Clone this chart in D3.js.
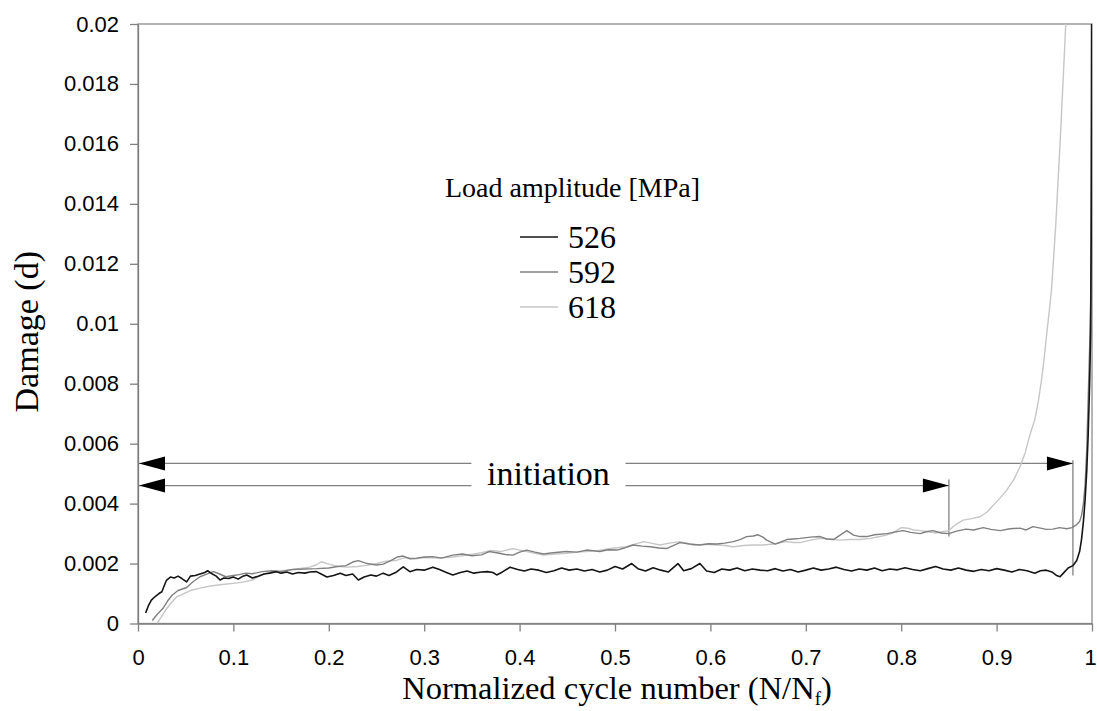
<!DOCTYPE html>
<html>
<head>
<meta charset="utf-8">
<script src="https://cdn.jsdelivr.net/npm/d3@7"></script>
<style>
body { margin: 0; background: #fff; }
svg { display: block; }
</style>
</head>
<body>
<svg id="chart" width="1097" height="711"></svg>
<script>
// damage curves, [N/Nf, d]
var s526 = [[0.008,0.00035],[0.011,0.0006],[0.014,0.00078],[0.018,0.0009],[0.022,0.001],[0.025,0.00106],[0.028,0.0013],[0.030,0.00145],[0.034,0.00155],[0.038,0.00152],[0.042,0.00158],[0.046,0.0015],[0.051,0.00139],[0.055,0.00158],[0.06,0.0016],[0.065,0.00165],[0.07,0.0017],[0.073,0.00176],[0.078,0.00165],[0.082,0.00158],[0.086,0.00145],[0.09,0.00152],[0.095,0.0015],[0.1,0.00155],[0.105,0.00148],[0.11,0.00158],[0.114,0.00162],[0.12,0.00152],[0.126,0.00158],[0.132,0.00165],[0.138,0.00168],[0.145,0.00173],[0.15,0.00168],[0.156,0.00172],[0.162,0.00165],[0.168,0.0017],[0.175,0.00168],[0.18,0.00172],[0.187,0.00173],[0.192,0.00165],[0.198,0.00155],[0.205,0.0016],[0.212,0.00168],[0.218,0.0016],[0.225,0.00165],[0.231,0.00145],[0.237,0.00155],[0.244,0.00162],[0.25,0.00158],[0.257,0.00168],[0.263,0.0016],[0.27,0.0017],[0.278,0.00189],[0.285,0.00173],[0.292,0.0018],[0.3,0.00178],[0.309,0.00188],[0.316,0.0018],[0.322,0.00172],[0.33,0.00162],[0.338,0.0017],[0.345,0.00175],[0.352,0.00168],[0.36,0.00172],[0.366,0.00173],[0.372,0.0017],[0.376,0.00162],[0.382,0.00172],[0.39,0.00188],[0.398,0.0018],[0.405,0.00175],[0.412,0.00182],[0.42,0.00178],[0.428,0.0017],[0.436,0.00176],[0.444,0.00185],[0.452,0.00178],[0.46,0.00182],[0.468,0.00175],[0.476,0.0018],[0.484,0.00172],[0.492,0.00178],[0.5,0.0019],[0.508,0.00182],[0.5175,0.002],[0.524,0.00183],[0.532,0.00175],[0.54,0.00186],[0.548,0.00178],[0.556,0.00172],[0.566,0.002],[0.572,0.00176],[0.58,0.00183],[0.589,0.002],[0.596,0.00175],[0.604,0.0017],[0.612,0.00182],[0.62,0.00178],[0.628,0.00185],[0.636,0.00176],[0.644,0.00182],[0.652,0.00178],[0.66,0.00176],[0.668,0.00183],[0.676,0.00175],[0.684,0.0018],[0.692,0.00172],[0.7,0.00178],[0.708,0.00185],[0.716,0.00178],[0.724,0.00182],[0.732,0.00188],[0.74,0.0018],[0.748,0.00175],[0.756,0.00182],[0.764,0.00178],[0.772,0.00185],[0.78,0.00176],[0.788,0.00182],[0.796,0.00179],[0.804,0.00186],[0.812,0.0018],[0.82,0.00176],[0.828,0.00183],[0.836,0.0019],[0.844,0.00182],[0.852,0.00178],[0.86,0.00185],[0.868,0.00178],[0.876,0.00174],[0.884,0.0018],[0.892,0.00176],[0.9,0.00183],[0.908,0.00178],[0.916,0.00172],[0.924,0.0018],[0.932,0.00176],[0.94,0.00168],[0.946,0.00176],[0.952,0.00178],[0.958,0.00172],[0.963,0.0016],[0.9665,0.00156],[0.97,0.00168],[0.975,0.00185],[0.98,0.00193],[0.984,0.0021],[0.987,0.0024],[0.989,0.0028],[0.991,0.0034],[0.9927,0.0041],[0.9945,0.0051],[0.996,0.0063],[0.9975,0.008],[0.9986,0.0097],[0.9992,0.013],[0.9995,0.017],[0.9997,0.021]];

var s592 = [[0.015,0.0001],[0.02,0.0003],[0.026,0.0005],[0.031,0.00075],[0.036,0.00095],[0.042,0.0011],[0.051,0.0012],[0.058,0.0014],[0.065,0.00156],[0.072,0.00165],[0.079,0.00173],[0.085,0.00166],[0.092,0.00156],[0.1,0.0016],[0.106,0.00163],[0.113,0.00168],[0.12,0.00166],[0.13,0.00173],[0.14,0.00176],[0.15,0.00174],[0.162,0.0018],[0.175,0.00182],[0.187,0.00183],[0.2,0.00185],[0.209,0.0019],[0.218,0.00193],[0.225,0.00205],[0.231,0.0021],[0.24,0.002],[0.25,0.00195],[0.257,0.00198],[0.265,0.0021],[0.272,0.00222],[0.278,0.00225],[0.285,0.00216],[0.292,0.00218],[0.3,0.00222],[0.309,0.00223],[0.318,0.00218],[0.33,0.00228],[0.34,0.00232],[0.35,0.00226],[0.36,0.00229],[0.368,0.0024],[0.376,0.00236],[0.385,0.0023],[0.393,0.00228],[0.4,0.00238],[0.4075,0.00245],[0.416,0.00238],[0.425,0.00232],[0.435,0.00236],[0.449,0.0024],[0.46,0.00238],[0.47,0.00245],[0.484,0.0024],[0.493,0.00246],[0.502,0.00245],[0.51,0.00252],[0.519,0.00262],[0.528,0.00258],[0.537,0.00256],[0.546,0.00252],[0.554,0.0025],[0.561,0.0026],[0.568,0.0027],[0.578,0.00265],[0.589,0.00262],[0.598,0.00266],[0.607,0.00265],[0.615,0.00268],[0.624,0.00273],[0.631,0.0028],[0.638,0.0029],[0.645,0.00292],[0.65,0.00296],[0.655,0.00288],[0.659,0.00278],[0.668,0.00265],[0.674,0.00272],[0.68,0.0028],[0.687,0.00282],[0.694,0.00284],[0.705,0.00288],[0.715,0.0029],[0.722,0.00282],[0.729,0.0028],[0.736,0.00295],[0.743,0.0031],[0.75,0.00295],[0.757,0.0029],[0.764,0.0029],[0.772,0.00296],[0.785,0.003],[0.793,0.00305],[0.802,0.0031],[0.81,0.00304],[0.82,0.003],[0.826,0.00306],[0.833,0.0031],[0.842,0.00302],[0.85,0.003],[0.858,0.00308],[0.868,0.00315],[0.876,0.00312],[0.886,0.0032],[0.894,0.00314],[0.904,0.0031],[0.914,0.00316],[0.9245,0.00318],[0.931,0.00312],[0.938,0.00323],[0.946,0.00318],[0.952,0.00314],[0.959,0.00315],[0.966,0.0032],[0.9735,0.00316],[0.979,0.0032],[0.984,0.0033],[0.987,0.0034],[0.989,0.0036],[0.991,0.004],[0.9927,0.0046],[0.9945,0.0058],[0.996,0.0075],[0.9975,0.0092],[0.9986,0.0108],[0.9992,0.014],[0.9996,0.021]];

var s618 = [[0.02,0.0],[0.024,0.0002],[0.029,0.00045],[0.035,0.0007],[0.041,0.0009],[0.048,0.001],[0.055,0.0011],[0.065,0.00118],[0.076,0.00125],[0.088,0.0013],[0.1,0.00134],[0.11,0.00138],[0.12,0.00145],[0.128,0.0016],[0.136,0.00168],[0.145,0.00173],[0.155,0.00177],[0.17,0.00184],[0.18,0.00188],[0.187,0.00196],[0.192,0.00206],[0.2,0.00198],[0.21,0.0019],[0.22,0.00188],[0.23,0.0019],[0.24,0.00194],[0.25,0.002],[0.26,0.00208],[0.27,0.0021],[0.28,0.0022],[0.29,0.00215],[0.3,0.0022],[0.315,0.00218],[0.33,0.00222],[0.345,0.00228],[0.36,0.00236],[0.37,0.00244],[0.38,0.0024],[0.393,0.0025],[0.4075,0.0024],[0.425,0.00228],[0.437,0.00232],[0.449,0.00234],[0.46,0.00238],[0.47,0.0024],[0.483,0.00244],[0.495,0.0025],[0.512,0.00256],[0.52,0.00264],[0.53,0.00273],[0.538,0.00268],[0.547,0.00262],[0.557,0.00268],[0.568,0.00273],[0.575,0.00268],[0.582,0.00262],[0.595,0.00264],[0.607,0.00262],[0.615,0.0026],[0.624,0.00256],[0.635,0.0026],[0.645,0.00262],[0.655,0.00262],[0.666,0.00265],[0.673,0.0027],[0.68,0.00273],[0.687,0.0027],[0.694,0.0027],[0.705,0.00278],[0.715,0.00284],[0.725,0.00282],[0.735,0.00278],[0.746,0.0028],[0.757,0.0028],[0.768,0.00284],[0.78,0.00292],[0.79,0.003],[0.8,0.0032],[0.807,0.00318],[0.813,0.00312],[0.82,0.0031],[0.828,0.00306],[0.836,0.00302],[0.843,0.00306],[0.85,0.0031],[0.857,0.0033],[0.865,0.00345],[0.874,0.0035],[0.8826,0.00356],[0.89,0.00372],[0.8966,0.00395],[0.904,0.0042],[0.9106,0.00445],[0.918,0.0048],[0.9245,0.00523],[0.93,0.0057],[0.935,0.0063],[0.94,0.0068],[0.9437,0.0074],[0.947,0.0081],[0.95,0.0089],[0.953,0.0098],[0.9555,0.0105],[0.9577,0.0112],[0.962,0.0133],[0.9665,0.016],[0.97,0.0183],[0.9725,0.02],[0.974,0.0212]];

var seriesNames = ["526", "592", "618"];
var seriesColors = ["#151515", "#808080", "#c6c6c6"];
var xTicks = [0, 0.1, 0.2, 0.3, 0.4, 0.5, 0.6, 0.7, 0.8, 0.9, 1];
var yTicks = [0, 0.002, 0.004, 0.006, 0.008, 0.01, 0.012, 0.014, 0.016, 0.018, 0.02];

// initiation arrows: [end x, level d, marker bottom d]
var arrows = [[0.98, 0.00534, 0.0016], [0.85, 0.0046, 0.0029]];
var arrowMarkTop = [0.00545, 0.0048];

var width = 1097, height = 711;
var margin = ({top: 24, right: 5, bottom: 87.5, left: 138});

var svg = d3.select("#chart");

var x = d3.scaleLinear().domain([0, 1]).range([margin.left, width - margin.right]);
var y = d3.scaleLinear().domain([0, 0.02]).range([height - margin.bottom, margin.top]);

var fmtY = d => d === 0 ? "0" : String(+d.toFixed(3));
var fmtX = d => String(+d.toFixed(1));

svg.append("defs").append("clipPath").attr("id", "clip")
  .append("rect")
  .attr("x", margin.left).attr("y", margin.top)
  .attr("width", width - margin.left - margin.right)
  .attr("height", height - margin.top - margin.bottom);

// frame
svg.append("rect")
  .attr("x", margin.left).attr("y", margin.top)
  .attr("width", width - margin.left - margin.right)
  .attr("height", height - margin.top - margin.bottom)
  .attr("fill", "none").attr("stroke", "#8c8c8c").attr("stroke-width", 1.3);

var xAxis = g => g
  .attr("transform", `translate(0,${height - margin.bottom})`)
  .call(d3.axisBottom(x).tickValues(xTicks).tickFormat(fmtX).tickSize(8).tickPadding(18).tickSizeOuter(0))
  .call(g => g.selectAll("line, path").attr("stroke", "#808080").attr("stroke-width", 1.3))
  .call(g => g.selectAll("text").attr("fill", "#000").attr("font-size", 22).attr("font-family", "Liberation Sans, Arial, sans-serif"))
  .call(g => g.select(".tick:last-of-type text").attr("dx", -2));

var yAxis = g => g
  .attr("transform", `translate(${margin.left},0)`)
  .call(d3.axisLeft(y).tickValues(yTicks).tickFormat(fmtY).tickSize(8).tickPadding(11).tickSizeOuter(0))
  .call(g => g.selectAll("line, path").attr("stroke", "#808080").attr("stroke-width", 1.3))
  .call(g => g.selectAll("text").attr("fill", "#000").attr("font-size", 22).attr("font-family", "Liberation Sans, Arial, sans-serif"));

svg.append("g").call(xAxis);
svg.append("g").call(yAxis);

// axis titles
var xt = svg.append("text")
  .attr("x", (margin.left + width - margin.right) / 2 + 2)
  .attr("y", 699)
  .attr("text-anchor", "middle")
  .attr("font-family", "Liberation Serif, Times New Roman, serif")
  .attr("font-size", 32.5);
xt.append("tspan").text("Normalized cycle number (N/N");
xt.append("tspan").attr("font-size", 19).attr("dy", 6).text("f");
xt.append("tspan").attr("dy", -6).text(")");

svg.append("text")
  .attr("transform", `translate(38,${(margin.top + height - margin.bottom) / 2 + 8}) rotate(-90)`)
  .attr("text-anchor", "middle")
  .attr("font-family", "Liberation Serif, Times New Roman, serif")
  .attr("font-size", 34)
  .text("Damage (d)");

// annotation arrows
var ann = svg.append("g");
var gapL = x(0.3495), gapR = x(0.511);
arrows.forEach(function(a, i) {
  var yy = y(a[1]);
  ann.append("line").attr("x1", x(0)).attr("x2", gapL).attr("y1", yy).attr("y2", yy)
    .attr("stroke", "#808080").attr("stroke-width", 1.3);
  ann.append("line").attr("x1", gapR).attr("x2", x(a[0])).attr("y1", yy).attr("y2", yy)
    .attr("stroke", "#808080").attr("stroke-width", 1.3);
  ann.append("line").attr("x1", x(a[0])).attr("x2", x(a[0]))
    .attr("y1", y(arrowMarkTop[i])).attr("y2", y(a[2]))
    .attr("stroke", "#808080").attr("stroke-width", 1.3);
  var x0 = x(0) + 1, x1 = x(a[0]);
  ann.append("path").attr("d", `M${x0},${yy}L${x0 + 26},${yy - 7}L${x0 + 26},${yy + 7}Z`).attr("fill", "#000");
  ann.append("path").attr("d", `M${x1},${yy}L${x1 - 26},${yy - 7}L${x1 - 26},${yy + 7}Z`).attr("fill", "#000");
});

svg.append("text")
  .attr("x", (gapL + gapR) / 2).attr("y", 485)
  .attr("text-anchor", "middle")
  .attr("font-family", "Liberation Serif, Times New Roman, serif")
  .attr("font-size", 34)
  .text("initiation");

// curves
var line = d3.line().x(d => x(d[0])).y(d => y(d[1]));
var plot = svg.append("g").attr("clip-path", "url(#clip)");
[s618, s592, s526].forEach(function(s, i) {
  var k = 2 - i;
  plot.append("path").datum(s)
    .attr("fill", "none")
    .attr("stroke", seriesColors[k])
    .attr("stroke-width", k === 0 ? 1.6 : 1.4)
    .attr("stroke-linejoin", "round")
    .attr("d", line);
});

// legend
var leg = svg.append("g");
leg.append("text")
  .attr("x", 445).attr("y", 197)
  .attr("font-family", "Liberation Serif, Times New Roman, serif")
  .attr("font-size", 28)
  .text("Load amplitude [MPa]");
seriesNames.forEach(function(n, i) {
  var yy = 237 + i * 35;
  leg.append("line").attr("x1", 520).attr("x2", 558).attr("y1", yy).attr("y2", yy)
    .attr("stroke", seriesColors[i]).attr("stroke-width", 1.5);
  leg.append("text").attr("x", 568).attr("y", yy + 11)
    .attr("font-family", "Liberation Serif, Times New Roman, serif")
    .attr("font-size", 32)
    .text(n);
});
</script>
</body>
</html>
